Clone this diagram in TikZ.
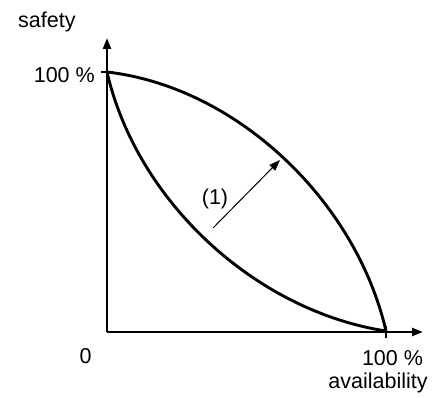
\documentclass[tikz,border=0pt]{standalone}
\usepackage{fontspec}
\setmainfont{Liberation Sans}
\usetikzlibrary{arrows.meta}

\begin{document}
\begin{tikzpicture}[
  x=1pt, y=1pt,
  >={Triangle[length=11pt,width=8pt]},
  font=\fontsize{21.5}{25}\selectfont,
  axis/.style={->,line width=2.3pt},
  curve/.style={line width=2.9pt},
  tick/.style={line width=1.6pt},
  arr/.style={-{Triangle[length=11pt,width=8pt]},line width=1pt},
  lab/.style={inner sep=0pt,anchor=base}
]
\useasboundingbox (0,0) rectangle (436,397);

\coordinate (O)    at (107, 65);
\coordinate (ytop) at (107,359);
\coordinate (xend) at (423, 65);
\coordinate (S)    at (107,325);  % 100 % safety
\coordinate (V)    at (386, 66);  % 100 % availability

\draw[axis] (O) -- (ytop);
\draw[axis] (O) -- (xend);
\draw[tick] ([xshift=-6pt]S) -- ([xshift=6pt]S);
\draw[tick] ([yshift=-6pt]V |- O) -- ([yshift=6pt]V |- O);

% the two trade-off curves
\draw[curve] (S) .. controls (237,310) and (356,196) .. (V);
\draw[curve] (S) .. controls (137,195) and (256,86) .. (V);

\coordinate (p1) at (213,169);
\coordinate (p2) at (280,237);
\draw[arr] (p1) -- (p2);
\node[lab] (one) at (215,193) {(1)};

\node[lab,anchor=base west] (ylab)  at (18,369)   {safety};
\node[lab,anchor=base east] (ymax)  at (95,314)   {100 \%};
\node[lab] (zero)  at (85.5,34)  {0};
\node[lab] (xmax)  at (392.5,32) {100 \%};
\node[lab] (xlab)  at (378,8.5)  {availability};
\end{tikzpicture}
\end{document}
